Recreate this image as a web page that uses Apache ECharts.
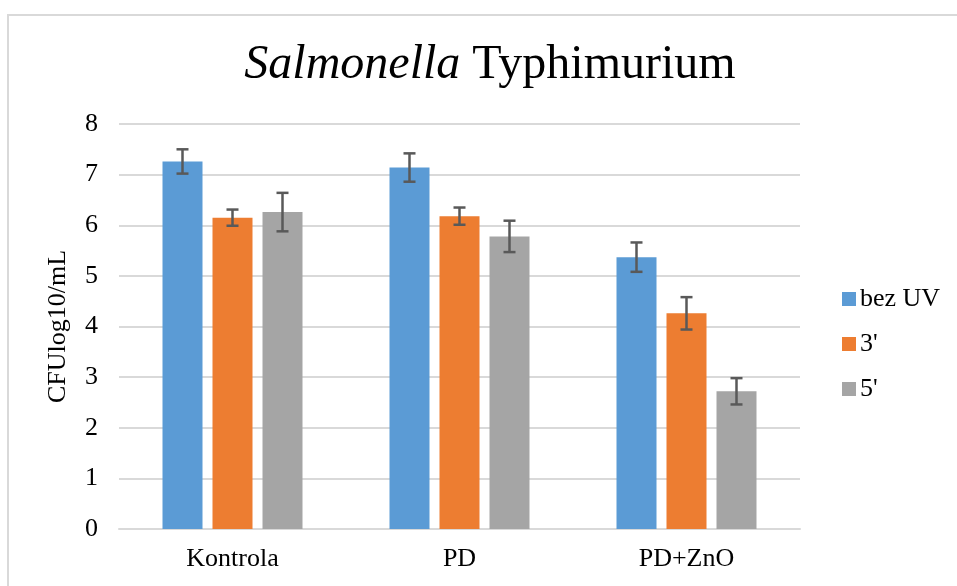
<!DOCTYPE html>
<html>
<head>
<meta charset="utf-8">
<script src="https://cdn.jsdelivr.net/npm/echarts@6/dist/echarts.min.js"></script>
<style>
  html, body { margin: 0; padding: 0; background: #fff; }
  #chart { width: 957px; height: 586px; }
</style>
</head>
<body>
<div id="chart"></div>
<script>
// categories and series
const categories = ['Kontrola', 'PD', 'PD+ZnO'];
const seriesNames = ['bez UV', "3'", "5'"];
const colors = ['#5B9BD5', '#ED7D31', '#A5A5A5'];

// mean values per series (one value per category)
const bezUV = [7.26, 7.14, 5.37];
const min3 = [6.15, 6.18, 4.26];
const min5 = [6.26, 5.78, 2.72];

// error (+/-) per series
const errBezUV = [0.24, 0.28, 0.29];
const err3 = [0.16, 0.17, 0.32];
const err5 = [0.38, 0.31, 0.26];

const means = [bezUV, min3, min5];
const errs = [errBezUV, err3, err5];

const font = '"Liberation Serif", "Times New Roman", serif';
const barW = 40;
const barStep = 50;

// error bar data: [catIndex, seriesIndex, low, high]
const errData = [];
means.forEach((arr, s) => {
  arr.forEach((v, c) => {
    errData.push([c, s, v - errs[s][c], v + errs[s][c]]);
  });
});

const chart = echarts.init(document.getElementById('chart'));

const option = {
  animation: false,
  backgroundColor: '#fff',
  title: {
    text: '{i|Salmonella}{n| Typhimurium}',
    left: 485,
    textAlign: 'center',
    top: 36,
    textStyle: {
      fontWeight: 'normal',
      rich: {
        i: { fontFamily: font, fontStyle: 'italic', fontWeight: 'normal', fontSize: 48, color: '#000' },
        n: { fontFamily: font, fontWeight: 'normal', fontSize: 48, color: '#000' }
      }
    }
  },
  graphic: [{
    type: 'rect',
    shape: { x: 8, y: 15, width: 1000, height: 700 },
    style: { fill: 'none', stroke: '#d9d9d9', lineWidth: 2 },
    silent: true,
    z: -1
  }],
  legend: {
    orient: 'vertical',
    left: 837,
    top: 281,
    itemWidth: 14,
    itemHeight: 14,
    itemGap: 19,
    icon: 'rect',
    data: seriesNames,
    textStyle: { fontFamily: font, fontSize: 26, color: '#000', padding: [0, 0, 0, -1] }
  },
  grid: {
    left: 119,
    right: 157,
    top: 124,
    bottom: 57
  },
  xAxis: {
    type: 'category',
    data: categories,
    axisLine: { show: true, lineStyle: { color: '#d9d9d9', width: 2 } },
    axisTick: { show: false },
    axisLabel: { fontFamily: font, fontSize: 26, color: '#000', margin: 17 }
  },
  yAxis: {
    type: 'value',
    min: 0,
    max: 8,
    interval: 1,
    name: 'CFUlog10/mL',
    nameLocation: 'middle',
    nameGap: 48,
    nameTextStyle: { fontFamily: font, fontSize: 26, color: '#000' },
    axisLine: { show: false },
    axisTick: { show: false },
    axisLabel: { fontFamily: font, fontSize: 26, color: '#000', margin: 21 },
    splitLine: { lineStyle: { color: '#d9d9d9', width: 2 } }
  },
  series: means.map((arr, s) => ({
    name: seriesNames[s],
    type: 'bar',
    data: arr,
    barWidth: barW,
    barGap: '25%',
    itemStyle: { color: colors[s] }
  })).concat([{
    type: 'custom',
    name: 'err',
    data: errData,
    z: 10,
    encode: { x: 0, y: [2, 3] },
    renderItem: (params, api) => {
      const c = api.value(0);
      const s = api.value(1);
      const lo = api.coord([c, api.value(2)]);
      const hi = api.coord([c, api.value(3)]);
      const x = lo[0] + (s - 1) * barStep;
      const cap = 6;
      const st = { stroke: '#595959', lineWidth: 2.5 };
      return {
        type: 'group',
        children: [
          { type: 'line', shape: { x1: x, y1: lo[1], x2: x, y2: hi[1] }, style: st },
          { type: 'line', shape: { x1: x - cap, y1: lo[1], x2: x + cap, y2: lo[1] }, style: st },
          { type: 'line', shape: { x1: x - cap, y1: hi[1], x2: x + cap, y2: hi[1] }, style: st }
        ]
      };
    }
  }])
};

chart.setOption(option);
</script>
</body>
</html>
